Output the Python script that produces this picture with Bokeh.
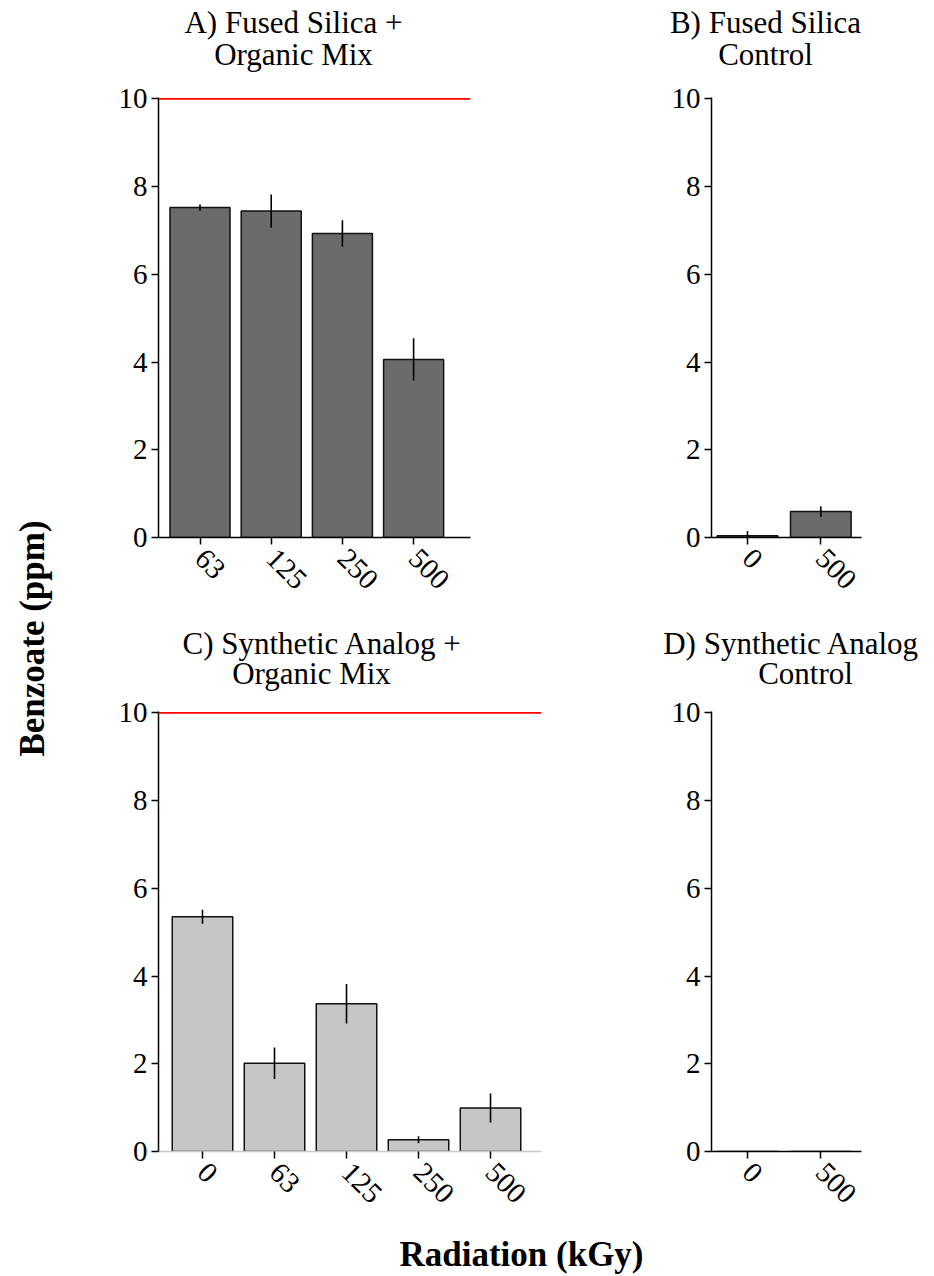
import math
from bokeh.plotting import figure
from bokeh.models import Range1d, FixedTicker, Span, Label
from bokeh.layouts import row, column
from bokeh.embed import file_html
from bokeh.resources import INLINE

# ---------------- data ----------------
A_labels = ["63", "125", "250", "500"]
A_values = [7.52, 7.44, 6.93, 4.06]
A_err = [0.07, 0.38, 0.30, 0.48]

B_labels = ["0", "500"]
B_values = [0.04, 0.59]
B_err = [0.11, 0.12]

C_labels = ["0", "63", "125", "250", "500"]
C_values = [5.35, 2.01, 3.37, 0.27, 0.99]
C_err = [0.16, 0.36, 0.45, 0.08, 0.33]

D_labels = ["0", "500"]
D_values = [0.0, 0.0]
D_err = [0.0, 0.0]

y_ticks = [0, 2, 4, 6, 8, 10]
reference_level = 10

titles = {
    "A": ["A) Fused Silica +", "Organic Mix"],
    "B": ["B) Fused Silica", "Control"],
    "C": ["C) Synthetic Analog +", "Organic Mix"],
    "D": ["D) Synthetic Analog", "Control"],
}
y_title = "Benzoate (ppm)"
x_title = "Radiation (kGy)"

FONT = "Liberation Serif"
DARK = "#6b6b6b"
LIGHT = "#c6c6c6"
FRAME_H = 440
Y_TOP = 10.03


def panel(labels, values, errs, fill, frame_w, x_start, x_end, bar_w,
          borders, xaxis_color="black", ref_line=False):
    left, right, top, bottom = borders
    xs = list(range(len(labels)))
    p = figure(frame_width=frame_w, frame_height=FRAME_H,
               x_range=Range1d(x_start, x_end), y_range=Range1d(0, Y_TOP),
               min_border_left=left, min_border_right=right,
               min_border_top=top, min_border_bottom=bottom,
               output_backend="svg", toolbar_location=None)
    p.outline_line_color = None
    p.xgrid.visible = False
    p.ygrid.visible = False

    p.vbar(x=xs, top=values, width=bar_w, bottom=0, fill_color=fill,
           line_color="#111111", line_width=1.5)
    lower = [v - e for v, e in zip(values, errs)]
    upper = [v + e for v, e in zip(values, errs)]
    p.segment(x0=xs, y0=lower, x1=xs, y1=upper, line_color="black",
              line_width=1.6)
    if ref_line:
        p.add_layout(Span(location=reference_level, dimension="width",
                          line_color="#ff0000", line_width=1.8))

    p.yaxis.ticker = FixedTicker(ticks=y_ticks)
    p.xaxis.ticker = FixedTicker(ticks=xs)
    p.xaxis.major_label_overrides = {i: lab for i, lab in zip(xs, labels)}
    p.xaxis.major_label_orientation = -math.pi / 4
    for ax in (p.xaxis, p.yaxis):
        ax.major_label_text_font = FONT
        ax.major_label_text_font_size = "29px"
        ax.major_label_text_color = "black"
        ax.major_tick_out = 7
        ax.major_tick_in = 0
        ax.minor_tick_line_color = None
        ax.major_tick_line_color = "black"
        ax.major_tick_line_width = 1.5
        ax.axis_line_width = 1.5
    p.yaxis.major_label_standoff = 4
    p.xaxis.major_label_standoff = 9
    p.yaxis.axis_line_color = "black"
    p.xaxis.axis_line_color = xaxis_color
    return p


def blank(w, h):
    f = figure(width=w, height=h, x_range=Range1d(0, 1), y_range=Range1d(0, 1),
               x_axis_type=None, y_axis_type=None, min_border=0,
               output_backend="svg", toolbar_location=None)
    f.outline_line_color = None
    f.xgrid.visible = False
    f.ygrid.visible = False
    return f


def put(fig, text, x, y, size="31px", bold=False, angle=0.0,
        baseline="alphabetic"):
    fig.add_layout(Label(x=x, y=y, x_units="screen", y_units="screen",
                         text=text, angle=angle, text_align="center",
                         text_baseline=baseline, text_font=FONT,
                         text_font_size=size,
                         text_font_style="bold" if bold else "normal",
                         text_color="black"))


# panels (borders: left, right, top, bottom)
pA = panel(A_labels, A_values, A_err, DARK, 312, -0.583, 3.799, 0.843,
           (58, 20, 17, 83), ref_line=True)
pB = panel(B_labels, B_values, B_err, DARK, 150, -0.491, 1.555, 0.827,
           (221, 64, 17, 83))
pC = panel(C_labels, C_values, C_err, LIGHT, 383, -0.611, 4.708, 0.84,
           (58, 20, 17, 64), xaxis_color="#c8c8c8", ref_line=True)
pD = panel(D_labels, D_values, D_err, DARK, 150, -0.491, 1.555, 0.827,
           (150, 64, 17, 64))

# title strips
top_strip = blank(825, 80)
put(top_strip, titles["A"][0], 193, 58)
put(top_strip, titles["A"][1], 193, 26)
put(top_strip, titles["B"][0], 665, 58)
put(top_strip, titles["B"][1], 665, 26)

mid_strip = blank(825, 74)
put(mid_strip, titles["C"][0], 222, 51)
put(mid_strip, titles["C"][1], 211, 21)
put(mid_strip, titles["D"][0], 691, 51)
put(mid_strip, titles["D"][1], 705, 21)

ylab = blank(100, 1215)
put(ylab, y_title, 32, 1215 - 638, size="35px", bold=True,
    angle=math.pi / 2, baseline="middle")

xlab = blank(925, 60)
put(xlab, x_title, 521, 21, size="35px", bold=True, baseline="middle")

layout = column(
    row(ylab, column(top_strip, row(pA, pB), mid_strip, row(pC, pD))),
    xlab)

open("out.html", "w").write(file_html(layout, INLINE))
